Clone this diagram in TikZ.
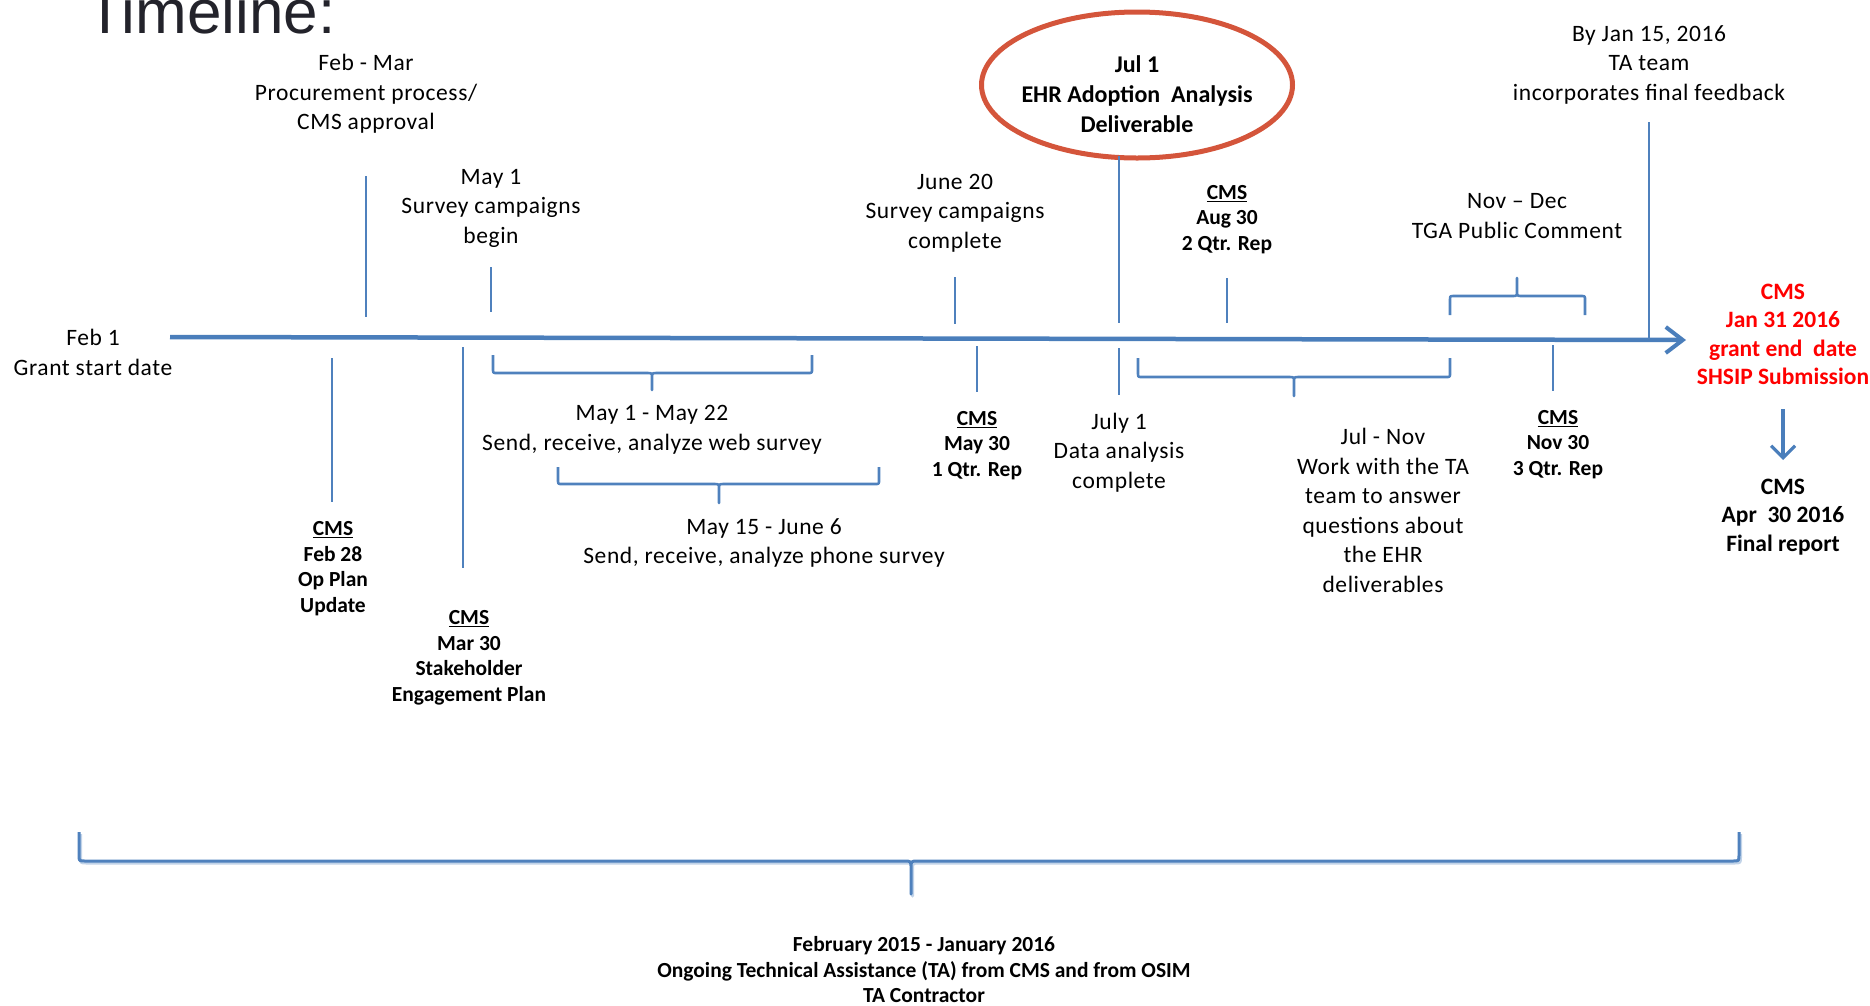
\documentclass[tikz,border=0pt]{standalone}
\usepackage{fontspec}
\setmainfont{Carlito}
\newfontfamily\regfont[LetterSpace=2.5]{Carlito}
\newfontfamily\titlefont{Liberation Sans}
\usetikzlibrary{arrows.meta,shapes.geometric}
\definecolor{axisblue}{HTML}{4A7EBB}
\definecolor{tickblue}{HTML}{4F81BD}
\definecolor{ovalred}{HTML}{D4553B}
\definecolor{titlegray}{HTML}{23232B}
\definecolor{alertred}{HTML}{FF0000}
\begin{document}
\begin{tikzpicture}[x=1pt,y=-1pt,
  reg/.style={align=center, inner sep=0pt, font=\regfont\fontsize{23.5}{29.5}\selectfont},
  bld/.style={align=center, inner sep=0pt, font=\fontsize{21.5}{25.5}\selectfont\bfseries},
  big/.style={align=center, inner sep=0pt, font=\fontsize{23.5}{28.5}\selectfont\bfseries},
  tickline/.style={draw=tickblue, line width=2pt},
  bracepath/.style={draw=tickblue, line width=2.6pt, line join=round},
  axisline/.style={draw=axisblue, line width=4.5pt, -{Straight Barb[length=17pt,width=26pt,line width=4pt]}},
  downarrow/.style={draw=axisblue, line width=3.5pt, -{Straight Barb[length=12pt,width=24pt,line width=3.2pt]}},
  ]
\useasboundingbox (0,0) rectangle (1870,1005);

% title
\node[anchor=base west, inner sep=0pt, text=titlegray,
      font=\titlefont\fontsize{62}{62}\selectfont] (title) at (86,33) {Timeline:};

% axis
\coordinate (axS) at (170,337);
\coordinate (axE) at (1686,340);
\draw[axisline] (axS) -- (axE);

% ---- above the axis ----
\node[reg] (febmar) at (366,94) {Feb - Mar\\Procurement process/\\CMS approval};
\draw[tickline] (366,176) coordinate (t1a) -- (366,317) coordinate (t1b);

\node[reg] (may1) at (491,208) {May 1\\Survey campaigns\\begin};
\draw[tickline] (491,267) coordinate (t2a) -- (491,312) coordinate (t2b);

\node[reg] (june20) at (955,213) {June 20\\Survey campaigns\\complete};
\draw[tickline] (955,277) coordinate (t3a) -- (955,324) coordinate (t3b);

\node[draw=ovalred, line width=5pt, ellipse, minimum width=311pt, minimum height=146pt,
      inner sep=0pt] (oval) at (1137,85) {};
\node[big, font=\fontsize{24}{30}\selectfont\bfseries] (jul1) at (1137,94) {Jul 1\\EHR Adoption\ \ Analysis\\Deliverable};
\draw[tickline] (1119,156) coordinate (t4a) -- (1119,323) coordinate (t4b);

\node[bld] (aug30) at (1227,219.5) {\underline{CMS}\\Aug 30\\2 Qtr. Rep};
\draw[tickline] (1227,278) coordinate (t5a) -- (1227,323) coordinate (t5b);

\node[reg] (novdec) at (1517,216) {Nov – Dec\\TGA Public Comment};
\draw[bracepath] (1450,315) -- (1450,300) .. controls (1450,296) .. (1454,296)
   -- (1512,296) .. controls (1517,296) .. (1517,291) -- (1517,278)
   -- (1517,291) .. controls (1517,296) .. (1522,296)
   -- (1581,296) .. controls (1585,296) .. (1585,300) -- (1585,315);

\node[reg] (jan15) at (1649,64.5) {By Jan 15, 2016\\TA team\\incorporates final feedback};
\draw[tickline] (1649,122) coordinate (t6a) -- (1649,339) coordinate (t6b);

\node[big, text=alertred] (jan31) at (1783,334.5) {CMS\\Jan 31 2016\\grant end\ \ date\\SHSIP Submission};
\draw[downarrow] (1783,409) coordinate (daS) -- (1783,460) coordinate (daE);
\node[big] (apr30) at (1783,517) {CMS\\Apr\ \ 30 2016\\Final report};

% ---- below the axis ----
\node[reg] (feb1) at (93,352.5) {Feb 1\\Grant start date};

\draw[tickline] (332,358) coordinate (b1a) -- (332,502) coordinate (b1b);
\node[bld] (feb28) at (333,568.5) {\underline{CMS}\\Feb 28\\Op Plan\\Update};

\draw[tickline] (463,347) coordinate (b2a) -- (463,568) coordinate (b2b);
\node[bld] (mar30) at (469,658) {\underline{CMS}\\Mar 30\\Stakeholder\\Engagement Plan};

% web survey brace
\draw[bracepath] (493,355) -- (493,369) .. controls (493,373) .. (497,373)
   -- (647,373) .. controls (652,373) .. (652,378) -- (652,390)
   -- (652,378) .. controls (652,373) .. (657,373)
   -- (808,373) .. controls (812,373) .. (812,369) -- (812,355);
\node[reg] (web) at (652,430) {May 1 - May 22\\Send, receive, analyze web survey};

% phone survey brace
\draw[bracepath] (558,467) -- (558,480) .. controls (558,484) .. (562,484)
   -- (714,484) .. controls (719,484) .. (719,489) -- (719,503)
   -- (719,489) .. controls (719,484) .. (724,484)
   -- (875,484) .. controls (879,484) .. (879,480) -- (879,467);
\node[reg] (phone) at (764,543) {May 15 - June 6\\Send, receive, analyze phone survey};

\draw[tickline] (977,346) coordinate (b3a) -- (977,392) coordinate (b3b);
\node[bld] (may30) at (977,445.5) {\underline{CMS}\\May 30\\1 Qtr. Rep};

\draw[tickline] (1119,348) coordinate (b4a) -- (1119,395) coordinate (b4b);
\node[reg] (july1) at (1119,452.5) {July 1\\Data analysis\\complete};

% Jul - Nov brace
\draw[bracepath] (1138,358) -- (1138,373) .. controls (1138,377) .. (1142,377)
   -- (1289,377) .. controls (1294,377) .. (1294,382) -- (1294,396)
   -- (1294,382) .. controls (1294,377) .. (1299,377)
   -- (1446,377) .. controls (1450,377) .. (1450,373) -- (1450,358);
\node[reg] (julnov) at (1383,510.5) {Jul - Nov\\Work with the TA\\team to answer\\questions about\\the EHR\\deliverables};

\draw[tickline] (1553,345) coordinate (b5a) -- (1553,391) coordinate (b5b);
\node[bld] (nov30) at (1558,444.5) {\underline{CMS}\\Nov 30\\3 Qtr. Rep};

% big bottom brace (with faint shadow)
\draw[draw=tickblue!35, line width=3pt, line join=round, shift={(1.5,2)}]
   (79,832) -- (79,855) .. controls (79,861) .. (85,861)
   -- (904,861) .. controls (911,861) .. (911,868) -- (911,894)
   -- (911,868) .. controls (911,861) .. (918,861)
   -- (1733,861) .. controls (1739,861) .. (1739,855) -- (1739,832);
\draw[bracepath, line width=3pt]
   (79,832) -- (79,855) .. controls (79,861) .. (85,861)
   -- (904,861) .. controls (911,861) .. (911,868) -- (911,894)
   -- (911,868) .. controls (911,861) .. (918,861)
   -- (1733,861) .. controls (1739,861) .. (1739,855) -- (1739,832);
\node[bld, font=\fontsize{21.5}{25.5}\selectfont\bfseries] (ongoing) at (924,970)
  {February 2015 - January 2016\\Ongoing Technical Assistance (TA) from CMS and from OSIM\\TA Contractor};
\end{tikzpicture}
\end{document}
